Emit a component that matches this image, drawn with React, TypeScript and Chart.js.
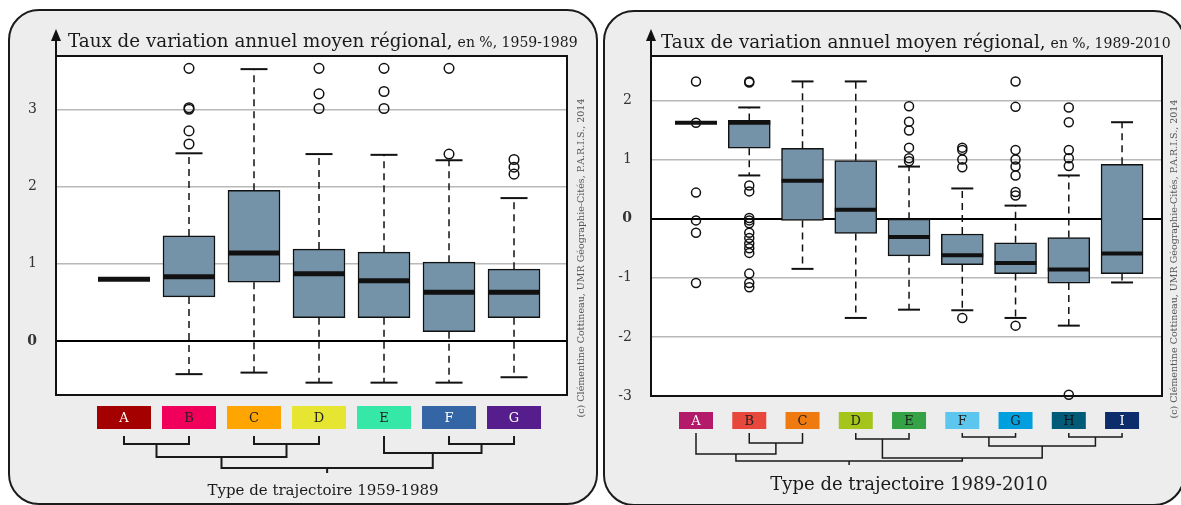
import React, { useEffect, useRef } from 'react';
import { Chart, registerables } from 'chart.js';
Chart.register(...registerables);

// ---------- Left panel: 1959-1989 ----------
const leftCategories = ['A', 'B', 'C', 'D', 'E', 'F', 'G'];
const leftColors = ['#a50000', '#f0005a', '#ffa500', '#e6e632', '#36e8a8', '#3465a4', '#561d8c'];
const leftLabelColors = ['#ffffff', '#222222', '#222222', '#222222', '#222222', '#ffffff', '#ffffff'];
const leftLow = [0.8, -0.43, -0.41, -0.54, -0.54, -0.54, -0.47];
const leftQ1 = [0.8, 0.57, 0.76, 0.3, 0.3, 0.12, 0.3];
const leftMedian = [0.8, 0.83, 1.14, 0.87, 0.78, 0.63, 0.63];
const leftQ3 = [0.8, 1.36, 1.95, 1.19, 1.15, 1.02, 0.93];
const leftHigh = [0.8, 2.43, 3.52, 2.42, 2.41, 2.34, 1.85];
const leftOutliers = [
  [],
  [3.53, 3.02, 3.0, 2.72, 2.55],
  [],
  [3.53, 3.2, 3.01],
  [3.53, 3.23, 3.01],
  [3.53, 2.42],
  [2.35, 2.25, 2.16],
];
const leftTicks = [0, 1, 2, 3];
// merges: [left child, right child, height]; child = leaf label or index of earlier merge
const leftMerges: any[] = [
  ['A', 'B', 8],
  ['C', 'D', 8],
  [0, 1, 21],
  ['F', 'G', 8],
  ['E', 3, 17],
  [2, 4, 32],
];

// ---------- Right panel: 1989-2010 ----------
const rightCategories = ['A', 'B', 'C', 'D', 'E', 'F', 'G', 'H', 'I'];
const rightColors = ['#b41a6a', '#e8473c', '#ee7a10', '#a5c41c', '#34a245', '#5cc6ee', '#00a0df', '#005b79', '#0c2c6c'];
const rightLabelColors = ['#ffffff', '#222222', '#222222', '#222222', '#222222', '#222222', '#222222', '#111111', '#ffffff'];
const rightLow = [1.62, 0.73, -0.85, -1.68, -1.54, -1.55, -1.68, -1.81, -1.08];
const rightQ1 = [1.62, 1.19, -0.03, -0.25, -0.63, -0.78, -0.93, -1.09, -0.93];
const rightMedian = [1.62, 1.62, 0.64, 0.15, -0.31, -0.62, -0.75, -0.86, -0.59];
const rightQ3 = [1.62, 1.66, 1.19, 0.98, -0.01, -0.26, -0.41, -0.32, 0.92];
const rightHigh = [1.62, 1.88, 2.32, 2.32, 0.88, 0.51, 0.22, 0.73, 1.63];
const rightOutliers = [
  [2.32, 1.62, 0.44, -0.03, -0.24, -1.09],
  [2.32, 2.3, 0.56, 0.46, 0.01, -0.03, -0.08, -0.24, -0.33, -0.42, -0.5, -0.58, -0.93, -1.09, -1.16],
  [],
  [],
  [1.9, 1.64, 1.49, 1.2, 1.02, 0.97],
  [1.2, 1.16, 1.0, 0.87, -1.68],
  [2.32, 1.89, 1.16, 1.0, 0.88, 0.73, 0.45, 0.39, -1.81],
  [1.88, 1.63, 1.16, 1.02, 0.89, -2.98],
  [],
];
const rightTicks = [-3, -2, -1, 0, 1, 2];
const rightMerges: any[] = [
  ['B', 'C', 10],
  ['A', 0, 21],
  ['D', 'E', 6],
  ['F', 'G', 4],
  ['H', 'I', 4],
  [3, 4, 13],
  [2, 5, 25],
  [1, 6, 28],
];

const SERIF = "'DejaVu Serif', serif";
const COPYRIGHT = '(c) Clémentine Cottineau, UMR Géographie-Cités, P.A.R.I.S., 2014';

function roundRectPath(ctx: CanvasRenderingContext2D, x: number, y: number, w: number, h: number, r: number) {
  ctx.beginPath();
  ctx.moveTo(x + r, y);
  ctx.lineTo(x + w - r, y);
  ctx.arcTo(x + w, y, x + w, y + r, r);
  ctx.lineTo(x + w, y + h - r);
  ctx.arcTo(x + w, y + h, x + w - r, y + h, r);
  ctx.lineTo(x + r, y + h);
  ctx.arcTo(x, y + h, x, y + h - r, r);
  ctx.lineTo(x, y + r);
  ctx.arcTo(x, y, x + r, y, r);
  ctx.closePath();
}

function makePlugin(s: any) {
  return {
    id: 'panelDecor',
    beforeDraw(chart: any) {
      const ctx: CanvasRenderingContext2D = chart.ctx;
      const { left, top, right, bottom } = chart.chartArea;
      const xs = chart.scales.x;
      ctx.save();
      // panel
      roundRectPath(ctx, s.panel.x, s.panel.y, s.panel.w, s.panel.h, 30);
      ctx.fillStyle = '#ededed';
      ctx.fill();
      ctx.lineWidth = 2;
      ctx.strokeStyle = '#1b1b1b';
      ctx.stroke();
      // plot background
      ctx.fillStyle = '#ffffff';
      ctx.fillRect(left, top, right - left, bottom - top);
      // axis arrow
      ctx.strokeStyle = '#111';
      ctx.lineWidth = 2;
      ctx.beginPath();
      ctx.moveTo(left, top);
      ctx.lineTo(left, s.arrowTip + 8);
      ctx.stroke();
      ctx.fillStyle = '#111';
      ctx.beginPath();
      ctx.moveTo(left, s.arrowTip);
      ctx.lineTo(left - 5, s.arrowTip + 12);
      ctx.lineTo(left + 5, s.arrowTip + 12);
      ctx.closePath();
      ctx.fill();
      // title
      ctx.fillStyle = '#1a1a1a';
      ctx.textBaseline = 'alphabetic';
      ctx.textAlign = 'left';
      ctx.font = `${s.titleSize}px ${SERIF}`;
      ctx.fillText(s.title, s.titleX, s.titleY);
      const tw = ctx.measureText(s.title).width;
      ctx.font = `${s.subSize}px ${SERIF}`;
      ctx.fillText(s.subtitle, s.titleX + tw + 5, s.titleY);
      // copyright
      ctx.save();
      ctx.translate(s.copyX, s.copyY);
      ctx.rotate(-Math.PI / 2);
      ctx.font = `${s.copySize}px ${SERIF}`;
      ctx.fillStyle = '#555';
      ctx.textAlign = 'center';
      ctx.textBaseline = 'middle';
      ctx.fillText(COPYRIGHT, 0, 0);
      ctx.restore();
      // category colour boxes
      const leafX: Record<string, number> = {};
      s.categories.forEach((c: string, i: number) => {
        const cx = xs.getPixelForValue(i + 1);
        leafX[c] = cx;
        ctx.fillStyle = s.colors[i];
        ctx.fillRect(cx - s.labelW / 2, s.labelTop, s.labelW, s.labelH);
        ctx.fillStyle = s.labelColors[i];
        ctx.font = `${s.labelSize}px ${SERIF}`;
        ctx.textAlign = 'center';
        ctx.textBaseline = 'middle';
        ctx.fillText(c, cx, s.labelTop + s.labelH / 2 + 1);
      });
      // dendrogram
      ctx.strokeStyle = '#1a1a1a';
      ctx.lineWidth = s.dendroLW;
      const nodes: { x: number; y: number }[] = [];
      const getNode = (k: any) =>
        typeof k === 'string' ? { x: leafX[k], y: s.dendroTop } : nodes[k];
      s.merges.forEach((m: any[]) => {
        const a = getNode(m[0]);
        const b = getNode(m[1]);
        const y = s.dendroTop + m[2];
        ctx.beginPath();
        ctx.moveTo(a.x, a.y);
        ctx.lineTo(a.x, y);
        ctx.lineTo(b.x, y);
        ctx.lineTo(b.x, b.y);
        ctx.stroke();
        nodes.push({ x: (a.x + b.x) / 2, y });
      });
      const root = nodes[nodes.length - 1];
      ctx.beginPath();
      ctx.moveTo(root.x, root.y);
      ctx.lineTo(root.x, root.y + s.rootTick);
      ctx.stroke();
      // x title
      ctx.fillStyle = '#1a1a1a';
      ctx.font = `${s.xTitleSize}px ${SERIF}`;
      ctx.textAlign = 'center';
      ctx.textBaseline = 'alphabetic';
      ctx.fillText(s.xTitle, xs.getPixelForValue((s.categories.length + 1) / 2) + s.xTitleShift, s.xTitleY);
      ctx.restore();
    },
    beforeDatasetsDraw(chart: any) {
      const ctx: CanvasRenderingContext2D = chart.ctx;
      const { left, top, right, bottom } = chart.chartArea;
      ctx.save();
      ctx.strokeStyle = '#111';
      ctx.lineWidth = 2;
      ctx.strokeRect(left, top, right - left, bottom - top);
      ctx.restore();
    },
    afterDatasetDraw(chart: any, args: any) {
      if (args.index !== 0) return;
      const ctx: CanvasRenderingContext2D = chart.ctx;
      const xs = chart.scales.x;
      const ys = chart.scales.y;
      ctx.save();
      ctx.strokeStyle = '#111';
      s.categories.forEach((_c: string, i: number) => {
        const cx = xs.getPixelForValue(i + 1);
        const whisk = (from: number, to: number) => {
          if (from === to) return;
          ctx.lineWidth = 1.5;
          ctx.setLineDash([7, 5]);
          ctx.beginPath();
          ctx.moveTo(cx, ys.getPixelForValue(from));
          ctx.lineTo(cx, ys.getPixelForValue(to));
          ctx.stroke();
          ctx.setLineDash([]);
          ctx.lineWidth = 2;
          ctx.beginPath();
          ctx.moveTo(cx - s.capW / 2, ys.getPixelForValue(to));
          ctx.lineTo(cx + s.capW / 2, ys.getPixelForValue(to));
          ctx.stroke();
        };
        whisk(s.q3[i], s.high[i]);
        whisk(s.q1[i], s.low[i]);
        ctx.setLineDash([]);
        ctx.lineWidth = s.medianW;
        ctx.lineCap = 'butt';
        ctx.beginPath();
        const my = ys.getPixelForValue(s.median[i]);
        ctx.moveTo(cx - s.boxW / 2, my);
        ctx.lineTo(cx + s.boxW / 2, my);
        ctx.stroke();
      });
      ctx.restore();
    },
  };
}

function buildConfig(s: any) {
  const boxes: any[] = [];
  s.categories.forEach((_c: string, i: number) => {
    if (s.q1[i] !== s.q3[i]) boxes.push({ x: i + 1, y: [s.q1[i], s.q3[i]] });
  });
  const outs: any[] = [];
  s.outliers.forEach((arr: number[], i: number) => arr.forEach((v) => outs.push({ x: i + 1, y: v })));
  return {
    type: 'bar',
    data: {
      datasets: [
        {
          type: 'bar',
          data: boxes,
          barThickness: s.boxW,
          backgroundColor: '#7593a8',
          borderColor: '#111',
          borderWidth: 1.5,
          borderSkipped: false,
          order: 2,
        },
        {
          type: 'scatter',
          data: outs,
          pointRadius: s.outR,
          pointBorderWidth: 1.5,
          borderColor: '#111',
          backgroundColor: 'rgba(0,0,0,0)',
          showLine: false,
          clip: false,
          order: 1,
        },
      ],
    },
    options: {
      responsive: false,
      animation: false,
      devicePixelRatio: 1,
      events: [],
      layout: { padding: s.padding },
      plugins: { legend: { display: false }, tooltip: { enabled: false } },
      scales: {
        x: { type: 'linear', min: s.xMin, max: s.xMax, offset: false, display: false },
        y: {
          type: 'linear',
          min: s.yMin,
          max: s.yMax,
          afterFit: (scale: any) => {
            scale.width = s.yAxisW;
          },
          afterBuildTicks: (scale: any) => {
            scale.ticks = s.ticks.map((v: number) => ({ value: v }));
          },
          border: { display: false },
          grid: {
            drawTicks: false,
            color: (c: any) => (c.tick && c.tick.value === 0 ? '#000000' : '#b8b8b8'),
            lineWidth: (c: any) => (c.tick && c.tick.value === 0 ? 2 : 1.5),
          },
          ticks: {
            padding: s.tickPad,
            color: '#333',
            font: (c: any) => ({
              family: SERIF,
              size: 14,
              weight: c.tick && c.tick.value === 0 ? 'bold' : 'normal',
            }),
          },
        },
      },
    },
    plugins: [makePlugin(s)],
  };
}

const leftSpec = {
  offsetX: 0,
  canvasW: 600,
  panel: { x: 9, y: 10, w: 588, h: 494 },
  padding: { top: 56, right: 33, bottom: 110, left: 0 },
  yAxisW: 56,
  tickPad: 19,
  xMin: -0.046,
  xMax: 7.815,
  yMin: -0.7,
  yMax: 3.69,
  categories: leftCategories,
  colors: leftColors,
  labelColors: leftLabelColors,
  low: leftLow,
  q1: leftQ1,
  median: leftMedian,
  q3: leftQ3,
  high: leftHigh,
  outliers: leftOutliers,
  ticks: leftTicks,
  merges: leftMerges,
  boxW: 52,
  capW: 27,
  medianW: 5,
  outR: 4.8,
  labelW: 54,
  labelTop: 406,
  labelH: 23,
  labelSize: 13,
  dendroTop: 436,
  dendroLW: 2,
  rootTick: 5,
  arrowTip: 29,
  title: 'Taux de variation annuel moyen régional,',
  subtitle: 'en %, 1959-1989',
  titleX: 68,
  titleY: 47,
  titleSize: 18.3,
  subSize: 14,
  copyX: 582,
  copyY: 258,
  copySize: 9.5,
  xTitle: 'Type de trajectoire 1959-1989',
  xTitleShift: 4,
  xTitleY: 495,
  xTitleSize: 15,
};

const rightSpec = {
  offsetX: 600,
  canvasW: 581,
  panel: { x: 4, y: 11, w: 580, h: 494 },
  padding: { top: 56, right: 19, bottom: 109, left: 0 },
  yAxisW: 51,
  tickPad: 19,
  xMin: 0.155,
  xMax: 9.75,
  yMin: -3.0,
  yMax: 2.75,
  categories: rightCategories,
  colors: rightColors,
  labelColors: rightLabelColors,
  low: rightLow,
  q1: rightQ1,
  median: rightMedian,
  q3: rightQ3,
  high: rightHigh,
  outliers: rightOutliers,
  ticks: rightTicks,
  merges: rightMerges,
  boxW: 42,
  capW: 22,
  medianW: 4,
  outR: 4.5,
  labelW: 34,
  labelTop: 412,
  labelH: 17,
  labelSize: 13,
  dendroTop: 433,
  dendroLW: 1.5,
  rootTick: 4,
  arrowTip: 29,
  title: 'Taux de variation annuel moyen régional,',
  subtitle: 'en %, 1989-2010',
  titleX: 61,
  titleY: 48,
  titleSize: 18.3,
  subSize: 14,
  copyX: 575,
  copyY: 259,
  copySize: 9.5,
  xTitle: 'Type de trajectoire 1989-2010',
  xTitleShift: 0,
  xTitleY: 490,
  xTitleSize: 18,
};

function Panel({ spec }: { spec: any }) {
  const ref = useRef<HTMLCanvasElement>(null);
  useEffect(() => {
    const chart = new Chart(ref.current as HTMLCanvasElement, buildConfig(spec) as any);
    return () => chart.destroy();
  }, [spec]);
  return (
    <canvas
      ref={ref}
      width={spec.canvasW}
      height={505}
      style={{ position: 'absolute', left: spec.offsetX, top: 0, width: spec.canvasW, height: 505 }}
    />
  );
}

export default function App() {
  return (
    <div
      style={{
        position: 'fixed',
        left: 0,
        top: 0,
        width: 1181,
        height: 505,
        background: '#ffffff',
        overflow: 'hidden',
      }}
    >
      <Panel spec={leftSpec} />
      <Panel spec={rightSpec} />
    </div>
  );
}
